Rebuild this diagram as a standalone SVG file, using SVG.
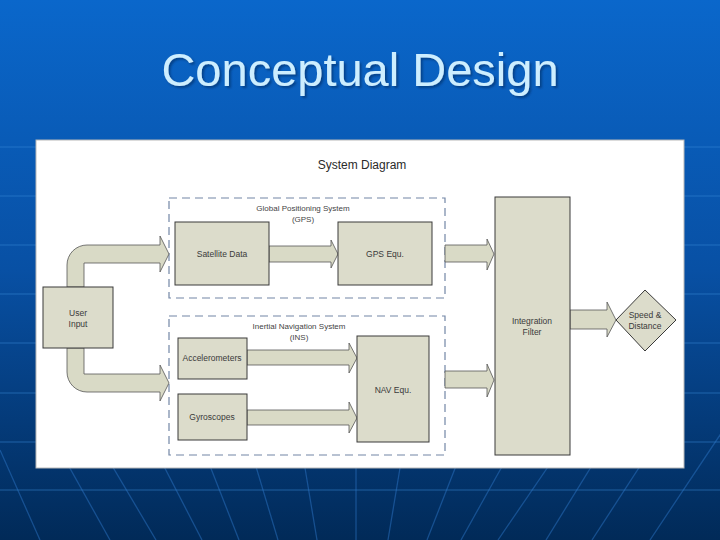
<svg xmlns="http://www.w3.org/2000/svg" width="720" height="540" viewBox="0 0 720 540">
<defs>
<linearGradient id="bg" x1="0" y1="0" x2="0" y2="1">
<stop offset="0" stop-color="#0a67cb"/>
<stop offset="0.5" stop-color="#0850a4"/>
<stop offset="1" stop-color="#012a58"/>
</linearGradient>
<filter id="shadow" x="-5%" y="-20%" width="110%" height="140%">
<feDropShadow dx="2" dy="2" stdDeviation="0.8" flood-color="#002a66" flood-opacity="0.6"/>
</filter>
<style>
.hl{stroke:#3b8ad8;stroke-opacity:0.35;stroke-width:1.5;fill:none}
.fl{stroke:#2c74c4;stroke-opacity:0.5;stroke-width:1.3;fill:none}
.box{fill:#dcdccb;stroke:#3a3a3a;stroke-width:1}
.arr{fill:#d9dac6;stroke:#555;stroke-width:0.8}
.grp{fill:none;stroke:#7286a6;stroke-width:1.2;stroke-dasharray:8 5}
.t{font-family:"Liberation Sans",Arial,sans-serif;font-size:8.5px;fill:#3a3a3a;text-anchor:middle}
.gt{font-family:"Liberation Sans",Arial,sans-serif;font-size:8px;fill:#444;text-anchor:middle}
</style>
</defs>
<rect width="720" height="540" fill="url(#bg)"/>
<g id="bg-lines">
<line class="hl" x1="0" y1="147" x2="720" y2="147"/>
<line class="hl" x1="0" y1="196" x2="720" y2="196"/>
<line class="hl" x1="0" y1="245" x2="720" y2="245"/>
<line class="hl" x1="0" y1="294" x2="720" y2="294"/>
<line class="hl" x1="0" y1="343" x2="720" y2="343"/>
<line class="hl" x1="0" y1="393" x2="720" y2="393"/>
<line class="hl" x1="0" y1="442" x2="720" y2="442"/>
<line class="hl" x1="0" y1="490" x2="720" y2="490"/>
<line class="fl" x1="43" y1="420" x2="110" y2="540"/>
<line class="fl" x1="85" y1="420" x2="156" y2="540"/>
<line class="fl" x1="140" y1="420" x2="202" y2="540"/>
<line class="fl" x1="192" y1="420" x2="239" y2="540"/>
<line class="fl" x1="242" y1="420" x2="278" y2="540"/>
<line class="fl" x1="297" y1="420" x2="317" y2="540"/>
<line class="fl" x1="356" y1="420" x2="356" y2="540"/>
<line class="fl" x1="408" y1="420" x2="388" y2="540"/>
<line class="fl" x1="474" y1="420" x2="427" y2="540"/>
<line class="fl" x1="528" y1="420" x2="461" y2="540"/>
<line class="fl" x1="580" y1="420" x2="498" y2="540"/>
<line class="fl" x1="620" y1="420" x2="546" y2="540"/>
<line class="fl" x1="670" y1="420" x2="592" y2="540"/>
<line class="fl" x1="730" y1="420" x2="650" y2="540"/>
<line class="fl" x1="0" y1="450" x2="40" y2="540"/>
</g>
<g id="title">
<text x="360" y="86" font-family="'Liberation Sans',Arial,sans-serif" font-size="47" fill="#cdeeff" text-anchor="middle" filter="url(#shadow)">Conceptual Design</text>
</g>
<rect id="panel" x="36" y="140" width="648" height="328" fill="#ffffff" stroke="#b8b8b8" stroke-width="1"/>
<text x="362" y="169" font-family="'Liberation Sans',Arial,sans-serif" font-size="12" fill="#2a2a2a" text-anchor="middle">System Diagram</text>
<g id="gps-group">
<rect class="grp" x="169" y="198" width="276" height="100"/>
<text class="gt" x="303" y="211">Global Positioning System</text>
<text class="gt" x="303" y="222">(GPS)</text>
</g>
<g id="ins-group">
<rect class="grp" x="169" y="316" width="276" height="139"/>
<text class="gt" x="299" y="329">Inertial Navigation System</text>
<text class="gt" x="299" y="340">(INS)</text>
</g>
<g id="connectors">
<path class="arr" d="M67,287 L67,265 A20,20 0 0 1 87,245 L160,245 L160,236 L169,254 L160,272 L160,263 L84,263 L84,287 Z"/>
<path class="arr" d="M67,348 L67,372 A20,20 0 0 0 87,392 L160,392 L160,401 L169,383 L160,365 L160,374 L84,374 L84,348 Z"/>
<polygon class="arr" points="269,246 331,246 331,240 338,254 331,268 331,262 269,262"/>
<polygon class="arr" points="445,245 487,245 487,239 494,254 487,270 487,262 445,262"/>
<polygon class="arr" points="247,350 349,350 349,343 357,358 349,373 349,365 247,365"/>
<polygon class="arr" points="247,410 349,410 349,402 357,418 349,433 349,425 247,425"/>
<polygon class="arr" points="445,371 487,371 487,364 494,380 487,397 487,388 445,388"/>
<polygon class="arr" points="570,310 607,310 607,302 616,320 607,337 607,329 570,329"/>
</g>
<g id="user-input">
<rect class="box" x="43" y="287" width="70" height="61"/>
<text class="t" x="78" y="316">User</text>
<text class="t" x="78" y="327">Input</text>
</g>
<g id="satellite-data">
<rect class="box" x="175" y="222" width="94" height="63"/>
<text class="t" x="222" y="257">Satellite Data</text>
</g>
<g id="gps-equ">
<rect class="box" x="338" y="222" width="94" height="63"/>
<text class="t" x="385" y="257">GPS Equ.</text>
</g>
<g id="accelerometers">
<rect class="box" x="178" y="338" width="69" height="41"/>
<text class="t" x="212" y="361">Accelerometers</text>
</g>
<g id="gyroscopes">
<rect class="box" x="178" y="394" width="69" height="46"/>
<text class="t" x="212" y="420">Gyroscopes</text>
</g>
<g id="nav-equ">
<rect class="box" x="357" y="336" width="72" height="106"/>
<text class="t" x="393" y="393">NAV Equ.</text>
</g>
<g id="integration-filter">
<rect class="box" x="495" y="197" width="75" height="258"/>
<text class="t" x="532" y="324">Integration</text>
<text class="t" x="532" y="335">Filter</text>
</g>
<g id="speed-distance">
<polygon class="box" points="616,320 645,290 676,320 645,351" stroke="#666" stroke-width="0.8"/>
<text class="t" x="645" y="318">Speed &amp;</text>
<text class="t" x="645" y="329">Distance</text>
</g>
</svg>
